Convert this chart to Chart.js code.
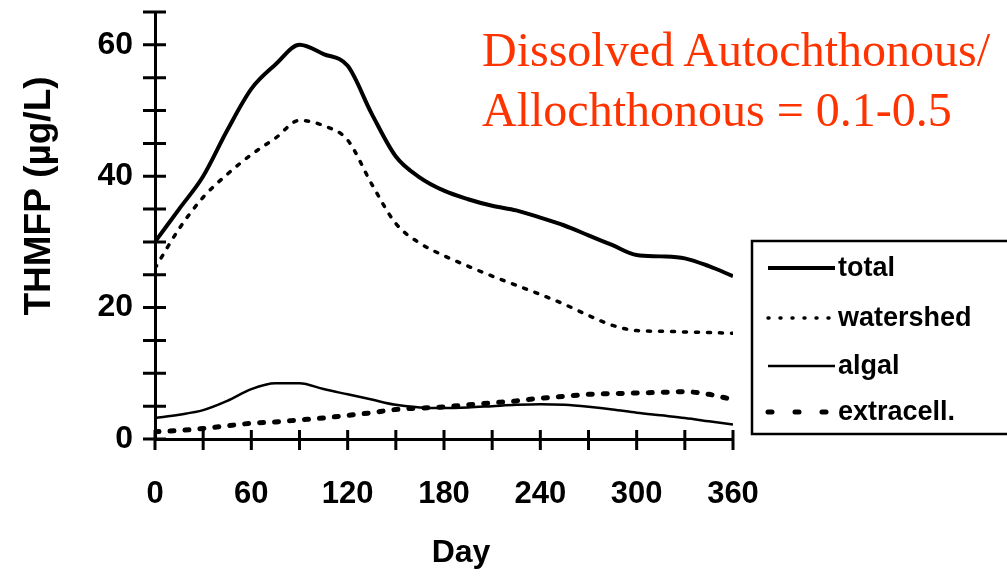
<!DOCTYPE html>
<html>
<head>
<meta charset="utf-8">
<script src="https://cdn.jsdelivr.net/npm/chart.js@4"></script>
<style>
  html, body { margin: 0; padding: 0; background: #fff; }
  .wrap { position: relative; width: 1007px; height: 576px; overflow: hidden; }
  canvas { position: absolute; left: 0; top: 0; }
  .note {
    position: absolute; left: 482px; top: 20px;
    font: 48px/60px "Liberation Serif", "Times New Roman", serif;
    color: #ff3300; white-space: nowrap;
  }
</style>
</head>
<body>
<div class="wrap">
  <canvas id="chart" width="1007" height="576"></canvas>
  <div class="note">Dissolved Autochthonous/<br>Allochthonous = 0.1-0.5</div>
</div>
<script>
const days = [0, 15, 30, 45, 60, 75, 90, 105, 120, 135, 150, 165, 180,
  195, 210, 225, 240, 255, 270, 285, 300, 315, 330, 345, 360];

// THMFP, µg/L
const total = [30, 35, 40, 47, 53.3, 57, 60, 58.6, 56.8, 49.5, 43, 39.8, 37.8,
  36.5, 35.5, 34.8, 33.7, 32.5, 31, 29.5, 28, 27.8, 27.5, 26.3, 24.8];
const watershed = [26, 32, 36.8, 40.3, 43.3, 45.8, 48.5, 47.7, 45.5, 38.8, 32.8, 29.8, 27.9,
  26.3, 24.8, 23.4, 22, 20.5, 18.8, 17.3, 16.5, 16.4, 16.3, 16.2, 16.1];
const algal = [3.2, 3.7, 4.4, 5.8, 7.6, 8.5, 8.5, 7.6, 6.8, 6, 5.2, 4.8, 4.7,
  4.8, 5, 5.2, 5.3, 5.2, 4.9, 4.5, 4, 3.6, 3.2, 2.7, 2.2];
const extracell = [1.1, 1.3, 1.6, 2, 2.4, 2.6, 2.9, 3.2, 3.6, 4, 4.5, 4.7, 4.9,
  5.2, 5.5, 5.8, 6.2, 6.5, 6.8, 6.9, 7, 7.1, 7.2, 6.8, 6];

const xTicks = [0, 60, 120, 180, 240, 300, 360];
const yTicks = [0, 20, 40, 60];

const boldFont = '"Liberation Sans", Arial, Helvetica, sans-serif';

const toPoints = values => values.map((v, i) => ({ x: days[i], y: v }));

const series = (label, values, width, dash, legendDash) => ({
  label,
  data: toPoints(values),
  borderColor: '#000',
  borderWidth: width,
  borderDash: dash,
  borderCapStyle: dash.length ? 'round' : 'butt',
  legendDash,
  pointRadius: 0,
  fill: false,
  cubicInterpolationMode: 'monotone'
});

// fixed scale boxes so the plot area lands where it should
const fixBox = (w, h) => s => {
  if (w) s.width = w;
  if (h) s.height = h;
  s.paddingTop = 0;
  s.paddingBottom = 0;
  s.paddingLeft = 0;
  s.paddingRight = 0;
};

// tick marks across the axes, axis titles
const axisMarks = {
  id: 'axisMarks',
  afterDraw(chart) {
    const { ctx, chartArea: a } = chart;
    const { x, y } = chart.scales;
    ctx.save();
    ctx.strokeStyle = '#000';
    ctx.lineWidth = 3;
    ctx.beginPath();
    y.ticks.forEach(t => {
      const py = y.getPixelForValue(t.value);
      ctx.moveTo(a.left - 12, py);
      ctx.lineTo(a.left + 11, py);
    });
    x.ticks.forEach(t => {
      const px = x.getPixelForValue(t.value);
      ctx.moveTo(px, a.bottom - 9);
      ctx.lineTo(px, a.bottom + 11);
    });
    ctx.stroke();

    ctx.fillStyle = '#000';
    ctx.font = 'bold 32px ' + boldFont;
    ctx.textAlign = 'center';
    ctx.textBaseline = 'alphabetic';
    ctx.fillText('Day', 461, 562);

    ctx.translate(50, 196);
    ctx.rotate(-Math.PI / 2);
    ctx.font = 'bold 37px ' + boldFont;
    ctx.fillText('THMFP (\u00b5g/L)', 0, 0);
    ctx.restore();
  }
};

// boxed legend at the right edge, running off the canvas
const boxLegend = {
  id: 'boxLegend',
  afterDraw(chart) {
    const { ctx } = chart;
    const rows = [268, 318, 366, 412];
    ctx.save();
    ctx.strokeStyle = '#000';
    ctx.lineWidth = 2.5;
    ctx.strokeRect(752, 241, 300, 193);

    ctx.font = 'bold 27px ' + boldFont;
    ctx.fillStyle = '#000';
    ctx.textAlign = 'left';
    ctx.textBaseline = 'middle';
    chart.data.datasets.forEach((ds, i) => {
      const ry = rows[i];
      ctx.beginPath();
      ctx.lineWidth = ds.borderWidth;
      ctx.setLineDash(ds.legendDash);
      ctx.lineCap = ds.legendDash.length ? 'round' : 'butt';
      ctx.moveTo(768, ry);
      ctx.lineTo(i === 3 ? 830 : 835, ry);
      ctx.stroke();
      ctx.setLineDash([]);
      ctx.fillText(ds.label, 838, ry + 1);
    });
    ctx.restore();
  }
};

new Chart(document.getElementById('chart'), {
  type: 'line',
  data: {
    datasets: [
      series('total', total, 4, [], []),
      series('watershed', watershed, 3.5, [3, 9], [1, 11]),
      series('algal', algal, 2.5, [], []),
      series('extracell.', extracell, 5, [4, 11], [4, 23])
    ]
  },
  options: {
    responsive: false,
    animation: false,
    devicePixelRatio: 1,
    layout: { padding: { top: 12, right: 274, left: 0, bottom: 0 } },
    plugins: {
      legend: { display: false },
      tooltip: { enabled: false }
    },
    scales: {
      x: {
        type: 'linear',
        min: 0,
        max: 360,
        afterFit: fixBox(0, 137),
        grid: { display: false, drawTicks: false },
        border: { display: true, color: '#000', width: 3 },
        ticks: {
          stepSize: 30,
          autoSkip: false,
          maxRotation: 0,
          padding: 37,
          color: '#000',
          font: { family: boldFont, size: 31, weight: 'bold' },
          callback: v => (xTicks.includes(v) ? String(v) : '')
        }
      },
      y: {
        min: 0,
        max: 65,
        afterFit: fixBox(155, 0),
        grid: { display: false, drawTicks: false },
        border: { display: true, color: '#000', width: 3 },
        ticks: {
          stepSize: 5,
          autoSkip: false,
          padding: 22,
          color: '#000',
          font: { family: boldFont, size: 32, weight: 'bold' },
          callback: v => (yTicks.includes(v) ? String(v) : '')
        }
      }
    }
  },
  plugins: [axisMarks, boxLegend]
});
</script>
</body>
</html>
